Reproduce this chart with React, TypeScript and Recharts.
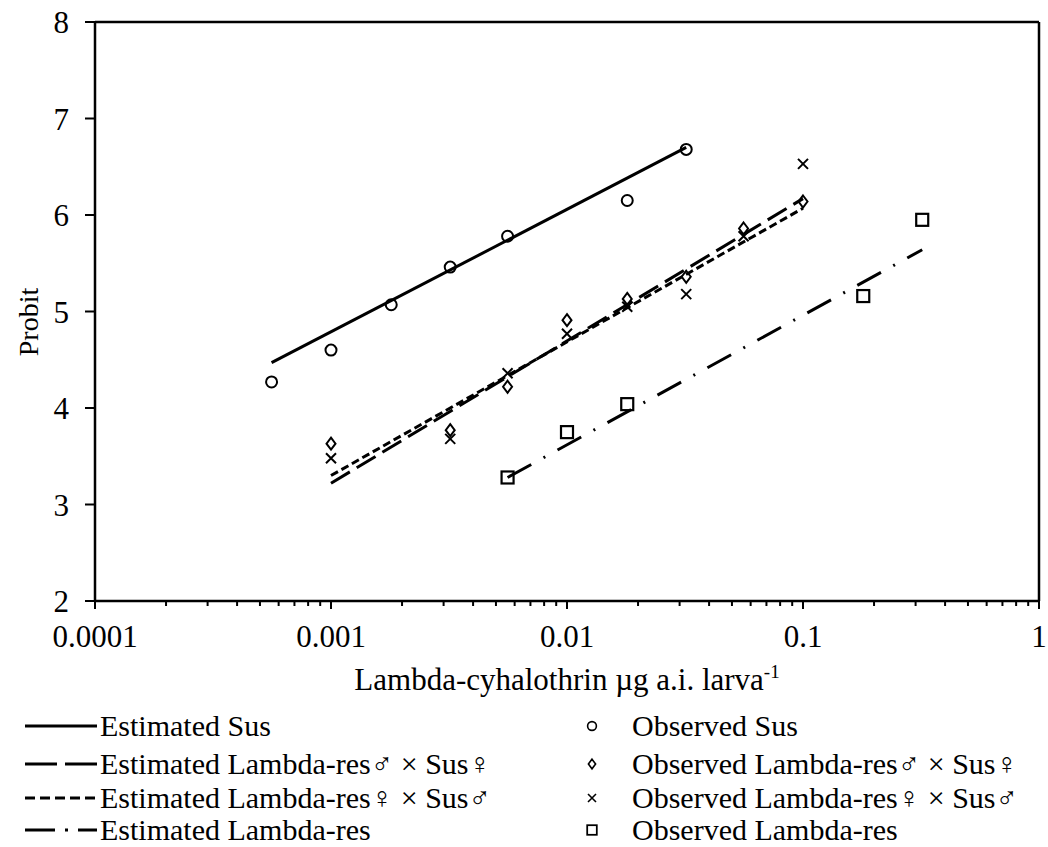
import React from 'react';
import { ScatterChart, Scatter, XAxis, YAxis, ReferenceLine } from 'recharts';

const FONT = "'Liberation Serif', 'Times New Roman', serif";

// axis ticks
const xTicks = [0.0001, 0.001, 0.01, 0.1, 1];
const xTickLabels = ['0.0001', '0.001', '0.01', '0.1', '1'];
const yTicks = [2, 3, 4, 5, 6, 7, 8];
const minorTicks = [0.0001, 0.001, 0.01, 0.1].flatMap(d => [2, 3, 4, 5, 6, 7, 8, 9].map(m => +(d * m).toPrecision(2)));

// observed points
const susDose = [0.00056, 0.001, 0.0018, 0.0032, 0.0056, 0.018, 0.032];
const susProbit = [4.27, 4.6, 5.07, 5.46, 5.78, 6.15, 6.68];
const crossDose = [0.001, 0.0032, 0.0056, 0.01, 0.018, 0.032, 0.056, 0.1];
const resMaleProbit = [3.63, 3.77, 4.22, 4.91, 5.13, 5.36, 5.86, 6.14];
const resFemaleProbit = [3.48, 3.68, 4.36, 4.77, 5.05, 5.18, 5.78, 6.53];
const resDose = [0.0056, 0.01, 0.018, 0.18, 0.32];
const resProbit = [3.28, 3.75, 4.04, 5.16, 5.95];

// estimated regression lines (end points)
const estSusDose = [0.00056, 0.032];
const estSusProbit = [4.47, 6.7];
const estMaleDose = [0.001, 0.1];
const estMaleProbit = [3.22, 6.17];
const estFemaleDose = [0.001, 0.1];
const estFemaleProbit = [3.3, 6.07];
const estResDose = [0.0056, 0.32];
const estResProbit = [3.28, 5.64];

const pts = (xs: number[], ys: number[]) => xs.map((x, i) => ({ x, y: ys[i] }));

const Circle = ({ cx, cy }: any) => <circle cx={cx} cy={cy} r={5.5} fill="none" stroke="#000" strokeWidth={2} />;
const Diamond = ({ cx, cy }: any) => (
  <path d={`M${cx},${cy - 6}L${cx + 4.5},${cy}L${cx},${cy + 6}L${cx - 4.5},${cy}Z`} fill="none" stroke="#000" strokeWidth={2} />
);
const Cross = ({ cx, cy }: any) => (
  <path d={`M${cx - 5},${cy - 5}L${cx + 5},${cy + 5}M${cx - 5},${cy + 5}L${cx + 5},${cy - 5}`} stroke="#000" strokeWidth={2} />
);
const Square = ({ cx, cy }: any) => <rect x={cx - 6} y={cy - 6} width={12} height={12} fill="none" stroke="#000" strokeWidth={2.2} />;
const NoDot = () => <g />;

const XTick = ({ x, y, payload }: any) => {
  const idx = xTicks.indexOf(payload.value);
  const major = idx >= 0;
  return (
    <g>
      <line x1={x} x2={x} y1={y} y2={y + (major ? 8 : 5)} stroke="#000" strokeWidth={2} />
      {major && (
        <text x={x} y={y + 46} textAnchor="middle" fontSize={31} fontFamily={FONT} fill="#000">
          {xTickLabels[idx]}
        </text>
      )}
    </g>
  );
};

const XLabel = ({ viewBox }: any) => (
  <text x={viewBox.x + viewBox.width / 2} y={viewBox.y + 89} textAnchor="middle" fontSize={31} fontFamily={FONT} fill="#000">
    Lambda-cyhalothrin µg a.i. larva
    <tspan fontSize={19} dy={-12}>-1</tspan>
  </text>
);

const YLabel = () => (
  <text x={28} y={322} transform="rotate(-90 28 322)" textAnchor="middle" dominantBaseline="central" fontSize={28} fontFamily={FONT} fill="#000">
    Probit
  </text>
);

const lineStyle = (dash?: string) => ({ stroke: '#000', strokeWidth: 3, strokeDasharray: dash });

const legendLeft = [
  { label: 'Estimated Sus', dash: undefined },
  { label: 'Estimated Lambda-res♂ × Sus♀', dash: '32 8' },
  { label: 'Estimated Lambda-res♀ × Sus♂', dash: '10 5' },
  { label: 'Estimated Lambda-res', dash: '30 10 3 10' },
];
const legendRight = ['Observed Sus', 'Observed Lambda-res♂ × Sus♀', 'Observed Lambda-res♀ × Sus♂', 'Observed Lambda-res'];
const legendMarkers = [Circle, Diamond, Cross, Square];
const legendRows = [726, 764, 798, 830];

export default function App() {
  return (
    <div style={{ position: 'absolute', left: 0, top: 0, width: 1048, height: 847, background: '#fff' }}>
      <ScatterChart width={1048} height={847} margin={{ top: 22, right: 9, bottom: 146, left: 0 }}>
        <XAxis
          type="number"
          dataKey="x"
          scale="log"
          domain={[0.0001, 1]}
          ticks={[...xTicks, ...minorTicks]}
          interval={0}
          allowDataOverflow
          height={100}
          tickSize={0}
          tickMargin={0}
          tickLine={false}
          tick={<XTick />}
          axisLine={{ stroke: '#000', strokeWidth: 2.5 }}
          label={<XLabel />}
        />
        <YAxis
          type="number"
          dataKey="y"
          domain={[2, 8]}
          ticks={yTicks}
          interval={0}
          width={95}
          tickSize={10}
          tickMargin={16}
          tickLine={{ stroke: '#000', strokeWidth: 2 }}
          axisLine={{ stroke: '#000', strokeWidth: 2.5 }}
          tick={{ fontSize: 31, fontFamily: FONT, fill: '#000' }}
          label={<YLabel />}
        />
        <ReferenceLine y={8} stroke="#000" strokeWidth={2.5} />
        <ReferenceLine x={1} stroke="#000" strokeWidth={2.5} />

        <Scatter data={pts(estSusDose, estSusProbit)} fill="#000" line={lineStyle()} lineType="joint" shape={<NoDot />} isAnimationActive={false} />
        <Scatter data={pts(estMaleDose, estMaleProbit)} fill="#000" line={lineStyle('22 8')} lineType="joint" shape={<NoDot />} isAnimationActive={false} />
        <Scatter data={pts(estFemaleDose, estFemaleProbit)} fill="#000" line={lineStyle('8 4')} lineType="joint" shape={<NoDot />} isAnimationActive={false} />
        <Scatter data={pts(estResDose, estResProbit)} fill="#000" line={lineStyle('27 14 2 14')} lineType="joint" shape={<NoDot />} isAnimationActive={false} />

        <Scatter data={pts(susDose, susProbit)} shape={<Circle />} isAnimationActive={false} />
        <Scatter data={pts(crossDose, resMaleProbit)} shape={<Diamond />} isAnimationActive={false} />
        <Scatter data={pts(crossDose, resFemaleProbit)} shape={<Cross />} isAnimationActive={false} />
        <Scatter data={pts(resDose, resProbit)} shape={<Square />} isAnimationActive={false} />
      </ScatterChart>

      <svg width={1048} height={847} style={{ position: 'absolute', left: 0, top: 0, pointerEvents: 'none' }}>
        {legendLeft.map((item, i) => (
          <g key={item.label}>
            <line x1={25} x2={97} y1={legendRows[i]} y2={legendRows[i]} {...lineStyle(item.dash)} />
            <text x={100} y={legendRows[i] + 10} fontSize={30} fontFamily={FONT} fill="#000">
              {item.label}
            </text>
          </g>
        ))}
        {legendRight.map((label, i) => {
          const Marker = legendMarkers[i];
          return (
            <g key={label}>
              <g transform={`translate(592 ${legendRows[i]}) scale(0.8) translate(-592 ${-legendRows[i]})`}>
                <Marker cx={592} cy={legendRows[i]} />
              </g>
              <text x={632} y={legendRows[i] + 10} fontSize={30} fontFamily={FONT} fill="#000">
                {label}
              </text>
            </g>
          );
        })}
      </svg>
    </div>
  );
}
